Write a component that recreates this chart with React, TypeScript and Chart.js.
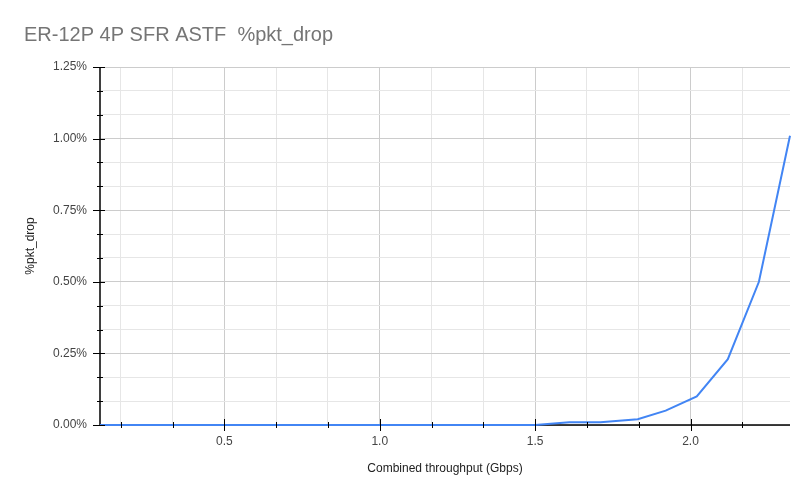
import React, { useEffect, useRef } from "react";
import { Chart, registerables } from "chart.js";

Chart.register(...registerables);

const chartTitle = "ER-12P 4P SFR ASTF  %pkt_drop";
const xAxisTitle = "Combined throughput (Gbps)";
const yAxisTitle = "%pkt_drop";

const throughputGbps = [0.1, 0.2, 0.3, 0.4, 0.5, 0.6, 0.7, 0.8, 0.9, 1.0, 1.1, 1.2, 1.3, 1.4, 1.5, 1.61, 1.71, 1.83, 1.92, 2.02, 2.12, 2.22, 2.32];
const pktDropPct = [0, 0, 0, 0, 0, 0, 0, 0, 0, 0, 0, 0, 0, 0, 0, 0.01, 0.01, 0.02, 0.05, 0.1, 0.23, 0.5, 1.01];

const xMin = 0.1;
const xMax = 2.32;
const xTickStep = 1 / 6;
const xLabelValues = [0.5, 1.0, 1.5, 2.0];
const yMax = 1.25;
const yTickStep = 0.25 / 3;
const yLabelValues = [0, 0.25, 0.5, 0.75, 1.0, 1.25];

const isLabel = (v: number, labels: number[]) => labels.some((l) => Math.abs(l - v) < 1e-6);

function buildXTicks() {
  const out: { value: number }[] = [];
  for (let k = -6; k < 30; k++) {
    const v = 0.5 + k * xTickStep;
    if (v > xMin + 1e-6 && v < xMax + 1e-6) out.push({ value: v });
  }
  return out;
}
function buildYTicks() {
  const out: { value: number }[] = [];
  for (let k = 0; k <= 15; k++) out.push({ value: k * yTickStep });
  return out;
}

const axesPlugin = {
  id: "axesPlugin",
  beforeDatasetsDraw(chart: any) {
    const { ctx, chartArea } = chart;
    ctx.save();
    ctx.strokeStyle = "#000";
    ctx.lineWidth = 1.5;
    ctx.beginPath();
    ctx.moveTo(chartArea.left, chartArea.top);
    ctx.lineTo(chartArea.left, chartArea.bottom);
    ctx.moveTo(chartArea.left, chartArea.bottom);
    ctx.lineTo(chartArea.right, chartArea.bottom);
    ctx.stroke();
    ctx.restore();
  },
  afterDatasetsDraw(chart: any) {
    const { ctx, chartArea, scales } = chart;
    ctx.save();
    ctx.strokeStyle = "#000";
    ctx.lineWidth = 1;
    ctx.beginPath();
    scales.x.ticks.forEach((t: any) => {
      const px = Math.round(scales.x.getPixelForValue(t.value)) + 0.5;
      const h = isLabel(t.value, xLabelValues) ? 6 : 3;
      ctx.moveTo(px, chartArea.bottom - h);
      ctx.lineTo(px, chartArea.bottom + h);
    });
    scales.y.ticks.forEach((t: any) => {
      const py = Math.round(scales.y.getPixelForValue(t.value)) + 0.5;
      const major = isLabel(t.value, yLabelValues);
      ctx.moveTo(chartArea.left - (major ? 7 : 3), py);
      ctx.lineTo(chartArea.left + (major ? 5 : 3), py);
    });
    ctx.stroke();
    ctx.fillStyle = "#757575";
    ctx.font = "20px 'Liberation Sans', Arial, sans-serif";
    ctx.textBaseline = "alphabetic";
    ctx.textAlign = "left";
    ctx.fillText(chartTitle, 24, 41);
    ctx.restore();
  },
};

export default function App() {
  const ref = useRef<HTMLCanvasElement | null>(null);
  useEffect(() => {
    if (!ref.current) return;
    const font = "'Liberation Sans', Arial, sans-serif";
    const chart = new Chart(ref.current, {
      type: "line",
      data: {
        datasets: [
          {
            data: throughputGbps.map((x, i) => ({ x, y: pktDropPct[i] })),
            borderColor: "#4285F4",
            borderWidth: 2,
            pointRadius: 0,
            tension: 0,
            fill: false,
            clip: false,
          } as any,
        ],
      },
      options: {
        animation: false,
        responsive: false,
        maintainAspectRatio: false,
        layout: { padding: { top: 67, right: 21, left: 0, bottom: 0 } },
        plugins: { legend: { display: false }, tooltip: { enabled: false }, title: { display: false } },
        scales: {
          x: {
            type: "linear",
            min: xMin,
            max: xMax,
            afterBuildTicks: (s: any) => {
              s.ticks = buildXTicks();
            },
            afterFit: (s: any) => {
              s.height = 78;
            },
            border: { display: false },
            grid: {
              drawTicks: false,
              color: (c: any) => (c.tick && isLabel(c.tick.value, xLabelValues) ? "#cccccc" : "#e6e6e6"),
            },
            ticks: {
              autoSkip: false,
              maxRotation: 0,
              padding: 9,
              color: "#444444",
              font: { family: font, size: 12 },
              callback: (v: any) => (isLabel(Number(v), xLabelValues) ? Number(v).toFixed(1) : ""),
            },
            title: {
              display: true,
              text: xAxisTitle,
              color: "#222222",
              font: { family: font, size: 12 },
              padding: { top: 0, bottom: 27 },
            },
          },
          y: {
            type: "linear",
            min: 0,
            max: yMax,
            afterBuildTicks: (s: any) => {
              s.ticks = buildYTicks();
            },
            afterFit: (s: any) => {
              s.width = 100;
            },
            border: { display: false },
            grid: {
              drawTicks: false,
              color: (c: any) => (c.tick && isLabel(c.tick.value, yLabelValues) ? "#cccccc" : "#e6e6e6"),
            },
            ticks: {
              autoSkip: false,
              padding: 13,
              color: "#444444",
              font: { family: font, size: 12 },
              callback: (v: any) => (isLabel(Number(v), yLabelValues) ? Number(v).toFixed(2) + "%" : ""),
            },
            title: {
              display: true,
              text: yAxisTitle,
              color: "#222222",
              font: { family: font, size: 12 },
              padding: { top: 23, bottom: 0 },
            },
          },
        },
      },
      plugins: [axesPlugin],
    });
    return () => chart.destroy();
  }, []);
  return (
    <div style={{ position: "fixed", left: 0, top: 0, width: 811, height: 503, background: "#fff" }}>
      <canvas ref={ref} width={811} height={503} style={{ width: 811, height: 503, display: "block" }} />
    </div>
  );
}
